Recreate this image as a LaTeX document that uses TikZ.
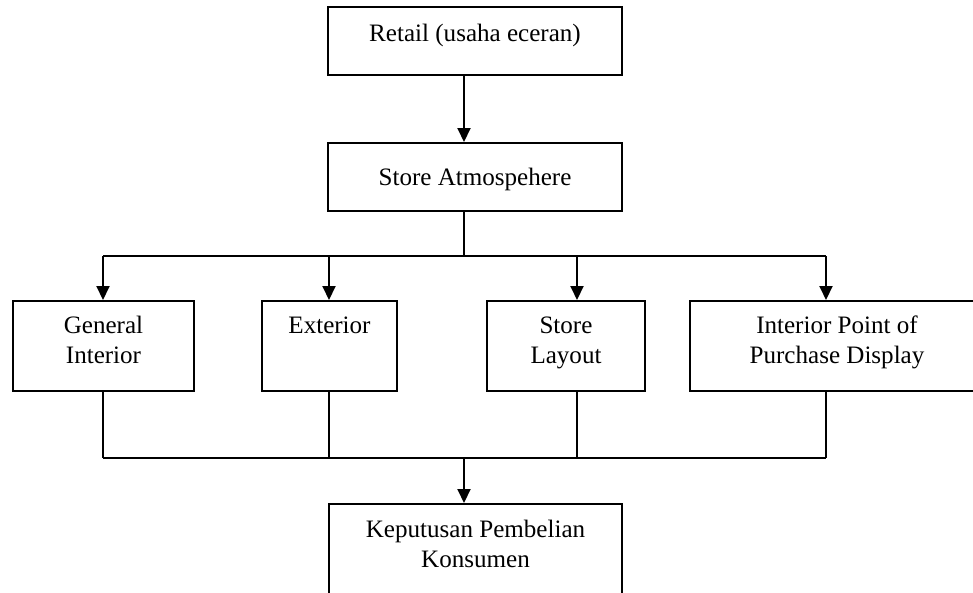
\documentclass[tikz,border=0pt]{standalone}
\usepackage{fontspec}
\setmainfont{Liberation Serif}
\usetikzlibrary{arrows.meta}

\begin{document}
\begin{tikzpicture}[x=0.75pt,y=-0.75pt,line width=1.5pt,
                    >={Triangle[width=9.75pt,length=10.5pt]}]
\tikzstyle{box}=[draw,rectangle,inner sep=0pt,minimum height=67.5pt]
\tikzstyle{txt}=[inner sep=0pt,anchor=base,align=center,
                 font=\fontsize{18.8pt}{22.5pt}\selectfont]
\useasboundingbox (0,0) rectangle (973,592);
\clip (0,0) rectangle (973,592);

\node [box,minimum width=220.5pt,minimum height=51pt] (ret) at (475,41) {};
\node [box,minimum width=220.5pt,minimum height=51pt] (atm) at (475,177) {};
\node [box,minimum width=135.75pt] (gen) at (103.5,346) {};
\node [box,minimum width=101.25pt] (ext) at (329.5,346) {};
\node [box,minimum width=118.5pt] (lay) at (566,346) {};
\node [box,minimum width=220.5pt] (pop) at (837,346) {};
\node [box,minimum width=219.75pt,minimum height=94.5pt] (kep) at (475.5,567) {};

\node [txt] (ret-t) at (475,41) {Retail (usaha eceran)};
\node [txt] (atm-t) at (475,185) {Store Atmospehere};
\node [txt] (gen-t) at (103.5,363) {General\\Interior};
\node [txt] (ext-t) at (329.5,333) {Exterior};
\node [txt] (lay-t) at (566,363) {Store\\Layout};
\node [txt] (pop-t) at (837,363) {Interior Point of\\Purchase Display};
\node [txt] (kep-t) at (475.5,567) {Keputusan Pembelian\\Konsumen};

\coordinate (sp) at (464,256);
\coordinate (jn) at (464,458);

\draw [->] (ret.south -| sp) -- (atm.north -| sp);
\draw (atm.south -| sp) -- (sp);
\draw (103,256) coordinate (sp-l) -- (826,256) coordinate (sp-r);
\draw (103,458) coordinate (jn-l) -- (826,458) coordinate (jn-r);
\draw [->] (jn) -- (jn |- kep.north);

\foreach \n/\x in {gen/103,ext/329,lay/577,pop/826}{
  \coordinate (t-\n) at (\x,256);
  \coordinate (b-\n) at (\x,458);
  \draw [->] (t-\n) -- (t-\n |- \n.north);
  \draw (b-\n |- \n.south) -- (b-\n);
}
\end{tikzpicture}
\end{document}
